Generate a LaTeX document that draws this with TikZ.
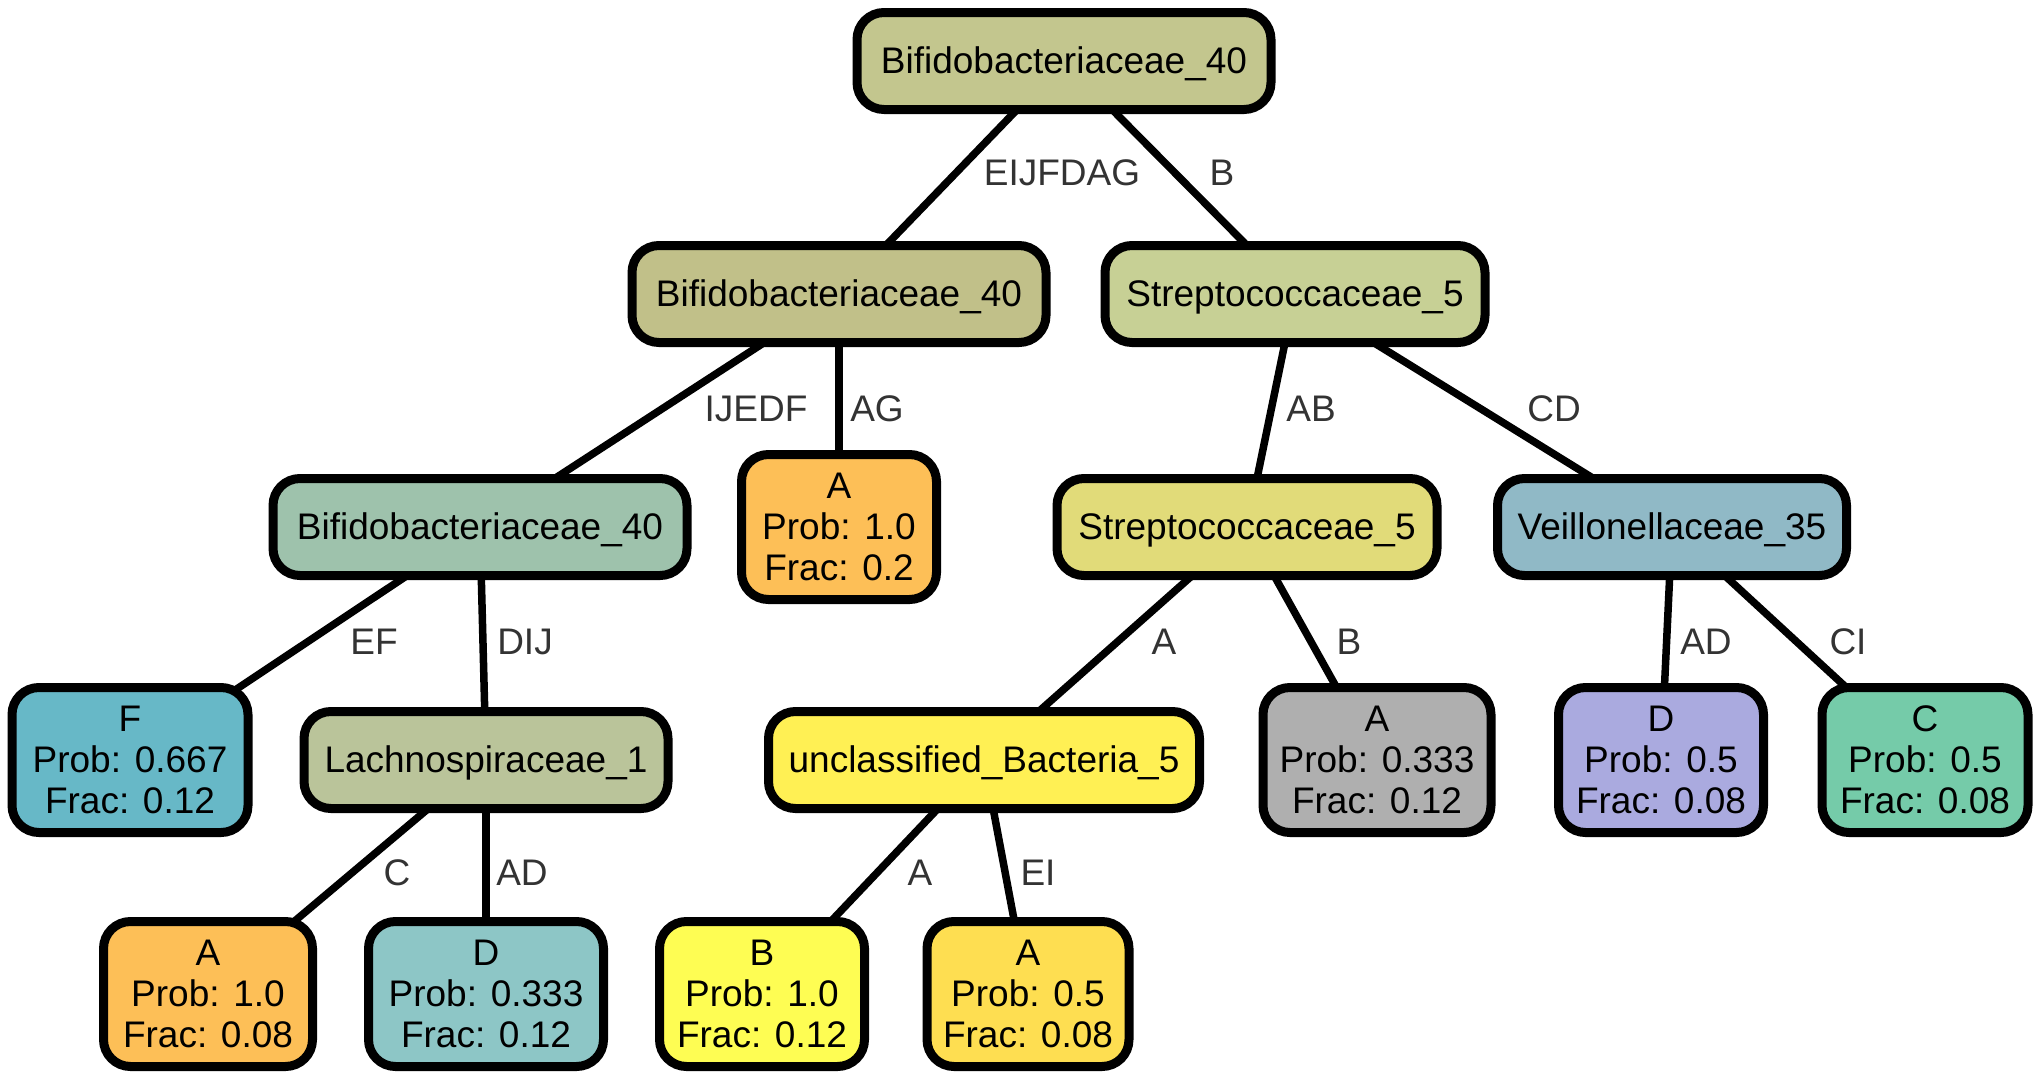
\documentclass[tikz,border=0pt]{standalone}
\usepackage{fontspec}
\setmainfont{Liberation Sans}
\usetikzlibrary{backgrounds}

\definecolor{c0}{HTML}{C3C68E}
\definecolor{c1}{HTML}{C1C089}
\definecolor{c2}{HTML}{C7D095}
\definecolor{c3}{HTML}{9EC2AC}
\definecolor{corange}{HTML}{FDBF57}
\definecolor{c5}{HTML}{E1DB79}
\definecolor{c6}{HTML}{90B9C6}
\definecolor{c7}{HTML}{67B8C7}
\definecolor{c8}{HTML}{BAC49A}
\definecolor{c9}{HTML}{FFF054}
\definecolor{cgray}{HTML}{AFAFAF}
\definecolor{cpurple}{HTML}{AAAADF}
\definecolor{cgreen}{HTML}{75CBA9}
\definecolor{cteal}{HTML}{8DC6C6}
\definecolor{cyelb}{HTML}{FEFD53}
\definecolor{cyela}{HTML}{FEDE51}
\definecolor{lbltext}{HTML}{333333}

\tikzset{
  box/.style={draw=black, line width=9pt, rounded corners=27pt, inner sep=0pt,
              align=center, font=\fontsize{37}{41}\selectfont},
  one/.style={box, minimum height=97pt, text height=30pt, text depth=6pt},
  three/.style={box, minimum height=145pt},
  lbl/.style={text=lbltext, font=\fontsize{37}{41}\selectfont, inner sep=0pt},
  edge/.style={line width=7.5pt, draw=black}
}

\begin{document}
\begin{tikzpicture}[x=1pt, y=-1pt]
\useasboundingbox (0,0) rectangle (2043,1079);

% tree nodes
\node[one, fill=c0, minimum width=414pt] (n0) at (1064,61) {Bifidobacteriaceae\_40};
\node[one, fill=c1, minimum width=414pt] (n1) at (839,294) {Bifidobacteriaceae\_40};
\node[one, fill=c2, minimum width=380pt] (n2) at (1295,294) {Streptococcaceae\_5};
\node[one, fill=c3, minimum width=414pt] (n3) at (480,527) {Bifidobacteriaceae\_40};
\node[three, fill=corange, minimum width=195pt] (n4) at (839,527) {A\\Prob: 1.0\\Frac: 0.2};
\node[one, fill=c5, minimum width=380pt] (n5) at (1247,527) {Streptococcaceae\_5};
\node[one, fill=c6, minimum width=349pt] (n6) at (1672,527) {Veillonellaceae\_35};
\node[three, fill=c7, minimum width=236pt] (n7) at (130,760) {F\\Prob: 0.667\\Frac: 0.12};
\node[one, fill=c8, minimum width=364pt] (n8) at (486,760) {Lachnospiraceae\_1};
\node[one, fill=c9, minimum width=431pt] (n9) at (984,760) {unclassified\_Bacteria\_5};
\node[three, fill=cgray, minimum width=228pt] (n10) at (1377,760) {A\\Prob: 0.333\\Frac: 0.12};
\node[three, fill=cpurple, minimum width=205pt] (n11) at (1661,760) {D\\Prob: 0.5\\Frac: 0.08};
\node[three, fill=cgreen, minimum width=206pt] (n12) at (1925,760) {C\\Prob: 0.5\\Frac: 0.08};
\node[three, fill=corange, minimum width=209pt] (n13) at (208,994) {A\\Prob: 1.0\\Frac: 0.08};
\node[three, fill=cteal, minimum width=235pt] (n14) at (486,994) {D\\Prob: 0.333\\Frac: 0.12};
\node[three, fill=cyelb, minimum width=205pt] (n15) at (762,994) {B\\Prob: 1.0\\Frac: 0.12};
\node[three, fill=cyela, minimum width=202pt] (n16) at (1028,994) {A\\Prob: 0.5\\Frac: 0.08};

% connectors, drawn behind the boxes
\begin{scope}[on background layer]
\draw[edge] (n0.center) -- (n1.center);
\draw[edge] (n0.center) -- (n2.center);
\draw[edge] (n1.center) -- (n3.center);
\draw[edge] (n1.center) -- (n4.center);
\draw[edge] (n2.center) -- (n5.center);
\draw[edge] (n2.center) -- (n6.center);
\draw[edge] (n3.center) -- (n7.center);
\draw[edge] (n3.center) -- (n8.center);
\draw[edge] (n5.center) -- (n9.center);
\draw[edge] (n5.center) -- (n10.center);
\draw[edge] (n6.center) -- (n11.center);
\draw[edge] (n6.center) -- (n12.center);
\draw[edge] (n8.center) -- (n13.center);
\draw[edge] (n8.center) -- (n14.center);
\draw[edge] (n9.center) -- (n15.center);
\draw[edge] (n9.center) -- (n16.center);
\end{scope}

% connector labels
\node[lbl] (l01) at (1062,173) {EIJFDAG};
\node[lbl] (l02) at (1222,173) {B};
\node[lbl] (l13) at (756,409) {IJEDF};
\node[lbl] (l14) at (877,409) {AG};
\node[lbl] (l25) at (1311,409) {AB};
\node[lbl] (l26) at (1554,409) {CD};
\node[lbl] (l37) at (374,642) {EF};
\node[lbl] (l38) at (525,642) {DIJ};
\node[lbl] (l59) at (1164,642) {A};
\node[lbl] (l510) at (1349,642) {B};
\node[lbl] (l611) at (1706,642) {AD};
\node[lbl] (l612) at (1848,642) {CI};
\node[lbl] (l813) at (397,873) {C};
\node[lbl] (l814) at (522,873) {AD};
\node[lbl] (l915) at (920,873) {A};
\node[lbl] (l916) at (1038,873) {EI};
\end{tikzpicture}
\end{document}
